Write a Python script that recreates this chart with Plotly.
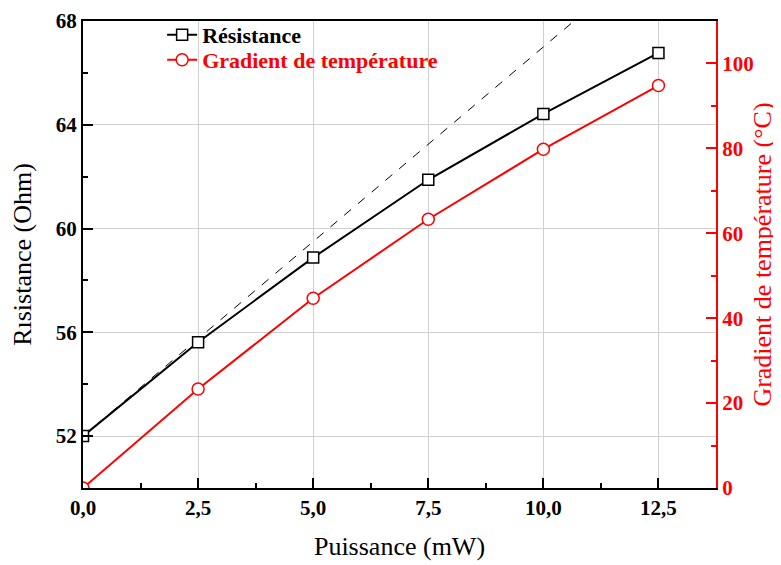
import plotly.graph_objects as go

# Data
puissance = [0.0, 2.5, 5.0, 7.5, 10.0, 12.5]
resistance = [52.0, 55.62, 58.88, 61.88, 64.42, 66.77]
gradient = [0.0, 23.3, 44.7, 63.3, 79.8, 94.8]
tangent_x = [0.0, 11.0]
tangent_y = [52.0, 68.5]
x_tickvals = [0.0, 2.5, 5.0, 7.5, 10.0, 12.5]
x_ticktext = ["0,0", "2,5", "5,0", "7,5", "10,0", "12,5"]
y_tickvals = [52, 56, 60, 64, 68]
y2_tickvals = [0, 20, 40, 60, 80, 100]

FONT = "Liberation Serif, Times New Roman, serif"

fig = go.Figure()

fig.add_trace(go.Scatter(
    x=tangent_x, y=tangent_y, mode="lines",
    line=dict(color="black", width=1, dash="dash"),
    showlegend=False, hoverinfo="skip", yaxis="y"))

fig.add_trace(go.Scatter(
    x=puissance, y=resistance, mode="lines+markers", name="Résistance",
    line=dict(color="black", width=2),
    marker=dict(symbol="square", size=11, color="white",
                line=dict(color="black", width=1.5)),
    yaxis="y", legend="legend"))

fig.add_trace(go.Scatter(
    x=puissance, y=gradient, mode="lines+markers",
    name="Gradient de température",
    line=dict(color="#ff0000", width=2),
    marker=dict(symbol="circle", size=12, color="white",
                line=dict(color="#ff0000", width=1.5)),
    yaxis="y2", legend="legend2"))

leg_common = dict(xanchor="left", yanchor="middle", bgcolor="rgba(0,0,0,0)",
                  borderwidth=0)

fig.update_layout(
    width=781, height=565,
    margin=dict(l=75, r=73, t=13, b=85, autoexpand=False),
    paper_bgcolor="white", plot_bgcolor="white",
    font=dict(family=FONT, color="black"),
    showlegend=True,
    legend=dict(x=0.125, y=0.97,
                font=dict(family=FONT, size=22, color="black", weight="bold"),
                **leg_common),
    legend2=dict(x=0.125, y=0.9165,
                 font=dict(family=FONT, size=22, color="#ff0000", weight="bold"),
                 **leg_common),
    xaxis=dict(
        range=[0, 13.75], tickvals=x_tickvals, ticktext=x_ticktext,
        ticks="inside", ticklen=10, tickwidth=1.5, tickcolor="black",
        minor=dict(dtick=1.25, tick0=0, ticks="inside", ticklen=5, tickwidth=1.5,
                   tickcolor="black", showgrid=False),
        showline=True, linecolor="black", linewidth=2, mirror=True,
        showgrid=True, gridcolor="#d0d0d0", gridwidth=1, zeroline=False,
        automargin=False,
        tickfont=dict(family=FONT, size=21, color="black", weight="bold"),
        title=dict(text="Puissance (mW)", font=dict(family=FONT, size=26, color="black"),
                   standoff=18)),
    yaxis=dict(
        range=[50, 68], tickvals=y_tickvals,
        ticks="inside", ticklen=10, tickwidth=1.5, tickcolor="black",
        minor=dict(dtick=2, tick0=50, ticks="inside", ticklen=5, tickwidth=1.5,
                   tickcolor="black", showgrid=False),
        showline=True, linecolor="black", linewidth=2,
        showgrid=True, gridcolor="#d0d0d0", gridwidth=1, zeroline=False,
        automargin=False,
        tickfont=dict(family=FONT, size=21, color="black", weight="bold"),
        title=dict(text="Rısistance (Ohm)", font=dict(family=FONT, size=26, color="black"),
                   standoff=17)),
    yaxis2=dict(
        overlaying="y", side="right", range=[0, 110], tickvals=y2_tickvals,
        ticks="inside", ticklen=10, tickwidth=1.5, tickcolor="#ff0000",
        minor=dict(dtick=10, tick0=0, ticks="inside", ticklen=5, tickwidth=1.5,
                   tickcolor="#ff0000", showgrid=False),
        showline=True, linecolor="#ff0000", linewidth=2,
        showgrid=False, zeroline=False, automargin=False,
        tickfont=dict(family=FONT, size=21, color="#ff0000", weight="bold"),
        title=dict(text="Gradient de température (°C)",
                   font=dict(family=FONT, size=26, color="#ff0000"), standoff=0)),
)

fig.write_html("out.html")
